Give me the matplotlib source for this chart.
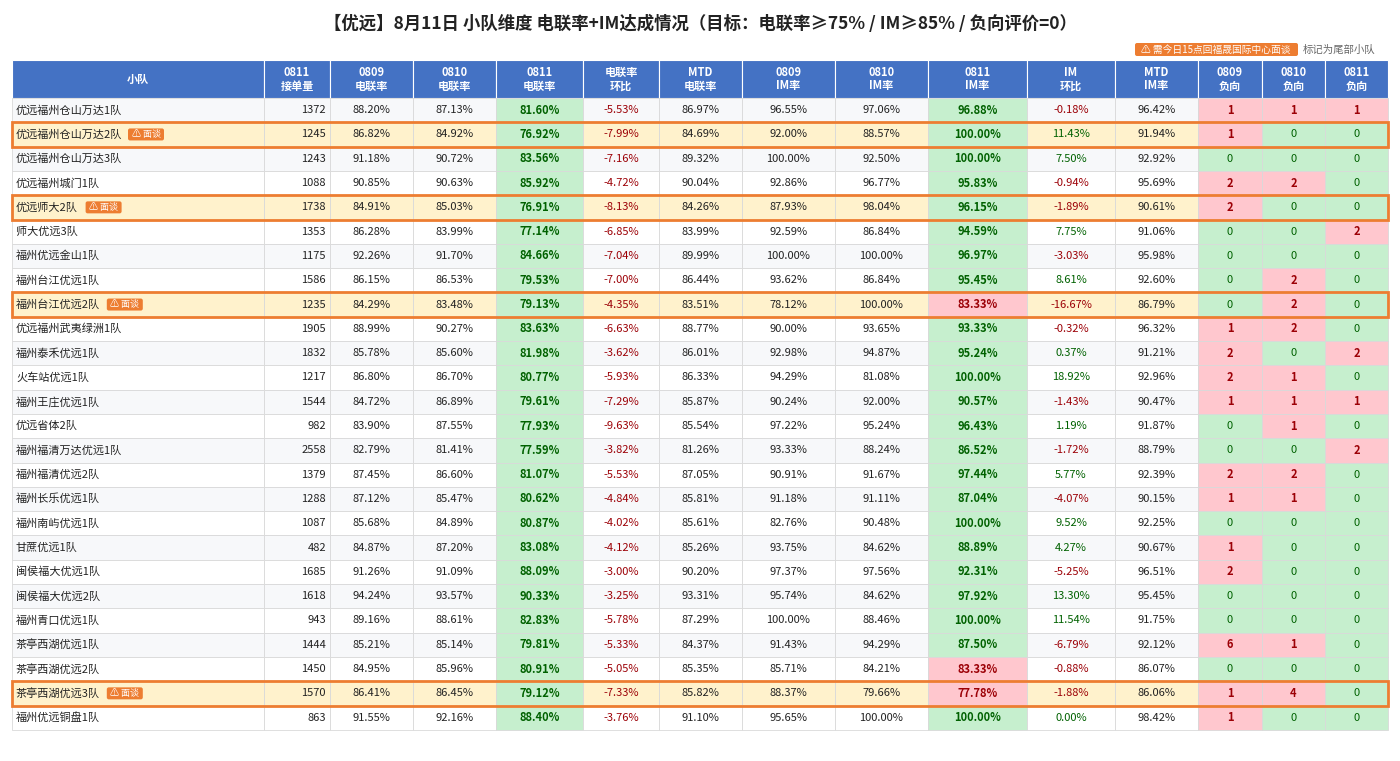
import matplotlib
matplotlib.use("Agg")
import matplotlib.pyplot as plt
from matplotlib.patches import Rectangle, FancyBboxPatch

plt.rcParams["font.family"] = ["Noto Sans CJK SC", "DejaVu Sans"]

TITLE = "【优远】8月11日 小队维度 电联率+IM达成情况（目标：电联率≥75% / IM≥85% / 负向评价=0）"
HEADERS = ["小队", "0811\n接单量", "0809\n电联率", "0810\n电联率", "0811\n电联率", "电联率\n环比",
           "MTD\n电联率", "0809\nIM率", "0810\nIM率", "0811\nIM率", "IM\n环比", "MTD\nIM率",
           "0809\n负向", "0810\n负向", "0811\n负向"]

teams = ["优远福州仓山万达1队", "优远福州仓山万达2队", "优远福州仓山万达3队", "优远福州城门1队",
         "优远师大2队", "师大优远3队", "福州优远金山1队", "福州台江优远1队", "福州台江优远2队",
         "优远福州武夷绿洲1队", "福州泰禾优远1队", "火车站优远1队", "福州王庄优远1队", "优远省体2队",
         "福州福清万达优远1队", "福州福清优远2队", "福州长乐优远1队", "福州南屿优远1队", "甘蔗优远1队",
         "闽侯福大优远1队", "闽侯福大优远2队", "福州青口优远1队", "茶亭西湖优远1队", "茶亭西湖优远2队",
         "茶亭西湖优远3队", "福州优远铜盘1队"]
flagged = [False, True, False, False, True, False, False, False, True, False, False, False, False,
           False, False, False, False, False, False, False, False, False, False, False, True, False]
orders = [1372, 1245, 1243, 1088, 1738, 1353, 1175, 1586, 1235, 1905, 1832, 1217, 1544, 982, 2558,
          1379, 1288, 1087, 482, 1685, 1618, 943, 1444, 1450, 1570, 863]
call_0809 = [88.20, 86.82, 91.18, 90.85, 84.91, 86.28, 92.26, 86.15, 84.29, 88.99, 85.78, 86.80, 84.72,
             83.90, 82.79, 87.45, 87.12, 85.68, 84.87, 91.26, 94.24, 89.16, 85.21, 84.95, 86.41, 91.55]
call_0810 = [87.13, 84.92, 90.72, 90.63, 85.03, 83.99, 91.70, 86.53, 83.48, 90.27, 85.60, 86.70, 86.89,
             87.55, 81.41, 86.60, 85.47, 84.89, 87.20, 91.09, 93.57, 88.61, 85.14, 85.96, 86.45, 92.16]
call_0811 = [81.60, 76.92, 83.56, 85.92, 76.91, 77.14, 84.66, 79.53, 79.13, 83.63, 81.98, 80.77, 79.61,
             77.93, 77.59, 81.07, 80.62, 80.87, 83.08, 88.09, 90.33, 82.83, 79.81, 80.91, 79.12, 88.40]
call_chg = [-5.53, -7.99, -7.16, -4.72, -8.13, -6.85, -7.04, -7.00, -4.35, -6.63, -3.62, -5.93, -7.29,
            -9.63, -3.82, -5.53, -4.84, -4.02, -4.12, -3.00, -3.25, -5.78, -5.33, -5.05, -7.33, -3.76]
call_mtd = [86.97, 84.69, 89.32, 90.04, 84.26, 83.99, 89.99, 86.44, 83.51, 88.77, 86.01, 86.33, 85.87,
            85.54, 81.26, 87.05, 85.81, 85.61, 85.26, 90.20, 93.31, 87.29, 84.37, 85.35, 85.82, 91.10]
im_0809 = [96.55, 92.00, 100.00, 92.86, 87.93, 92.59, 100.00, 93.62, 78.12, 90.00, 92.98, 94.29, 90.24,
           97.22, 93.33, 90.91, 91.18, 82.76, 93.75, 97.37, 95.74, 100.00, 91.43, 85.71, 88.37, 95.65]
im_0810 = [97.06, 88.57, 92.50, 96.77, 98.04, 86.84, 100.00, 86.84, 100.00, 93.65, 94.87, 81.08, 92.00,
           95.24, 88.24, 91.67, 91.11, 90.48, 84.62, 97.56, 84.62, 88.46, 94.29, 84.21, 79.66, 100.00]
im_0811 = [96.88, 100.00, 100.00, 95.83, 96.15, 94.59, 96.97, 95.45, 83.33, 93.33, 95.24, 100.00, 90.57,
           96.43, 86.52, 97.44, 87.04, 100.00, 88.89, 92.31, 97.92, 100.00, 87.50, 83.33, 77.78, 100.00]
im_chg = [-0.18, 11.43, 7.50, -0.94, -1.89, 7.75, -3.03, 8.61, -16.67, -0.32, 0.37, 18.92, -1.43, 1.19,
          -1.72, 5.77, -4.07, 9.52, 4.27, -5.25, 13.30, 11.54, -6.79, -0.88, -1.88, 0.00]
im_mtd = [96.42, 91.94, 92.92, 95.69, 90.61, 91.06, 95.98, 92.60, 86.79, 96.32, 91.21, 92.96, 90.47,
          91.87, 88.79, 92.39, 90.15, 92.25, 90.67, 96.51, 95.45, 91.75, 92.12, 86.07, 86.06, 98.42]
neg_0809 = [1, 1, 0, 2, 2, 0, 0, 0, 0, 1, 2, 2, 1, 0, 0, 2, 1, 0, 1, 2, 0, 0, 6, 0, 1, 1]
neg_0810 = [1, 0, 0, 2, 0, 0, 0, 2, 2, 2, 0, 1, 1, 1, 0, 2, 1, 0, 0, 0, 0, 0, 1, 0, 4, 0]
neg_0811 = [1, 0, 0, 0, 0, 2, 0, 0, 0, 0, 2, 0, 1, 0, 2, 0, 0, 0, 0, 0, 0, 0, 0, 0, 0, 0]

col_x = [12, 264, 330, 413, 496, 583, 659, 742, 835, 928, 1027, 1115, 1198, 1262, 1325, 1388]
HEAD_TOP, HEAD_BOT, ROW_H = 60, 98, 24.3

HEADER_BG = "#4472C4"
GREEN_BG, GREEN_FG = "#C6EFCE", "#006100"
RED_BG, RED_FG = "#FFC7CE", "#9C0006"
FLAG_BG, FLAG_EDGE = "#FFF2CC", "#ED7D31"
GRID = "#d9d9d9"

fig = plt.figure(figsize=(14, 7.61), dpi=100)
ax = fig.add_axes([0, 0, 1, 1])
ax.set_xlim(0, 1400)
ax.set_ylim(761, 0)
ax.axis("off")

ax.text(700, 24, TITLE, ha="center", va="center", fontsize=12.5, weight="bold", color="#222")

# legend chip
ax.add_patch(FancyBboxPatch((1135, 43), 163, 13, boxstyle="round,pad=0,rounding_size=2",
                            fc=FLAG_EDGE, ec="none"))
ax.text(1216, 49.5, "⚠ 需今日15点回福晟国际中心面谈", ha="center", va="center", fontsize=7, color="white")
ax.text(1303, 49.5, "标记为尾部小队", ha="left", va="center", fontsize=7.5, color="#666")

# header
for i, h in enumerate(HEADERS):
    x0, x1 = col_x[i], col_x[i + 1]
    ax.add_patch(Rectangle((x0, HEAD_TOP), x1 - x0, HEAD_BOT - HEAD_TOP, fc=HEADER_BG, ec="white", lw=0.8))
    ax.text((x0 + x1) / 2, (HEAD_TOP + HEAD_BOT) / 2, h, ha="center", va="center", fontsize=8,
            weight="bold", color="white", linespacing=1.1)


def pct(v, sign=False):
    return f"{v:.2f}%"


for r in range(len(teams)):
    y0 = HEAD_BOT + r * ROW_H
    yc = y0 + ROW_H / 2
    base = FLAG_BG if flagged[r] else ("#f7f8fa" if r % 2 == 0 else "white")
    cells = [
        (teams[r], base, "#222", False),
        (str(orders[r]), base, "#222", False),
        (pct(call_0809[r]), base, "#222", False),
        (pct(call_0810[r]), base, "#222", False),
        (pct(call_0811[r]), GREEN_BG if call_0811[r] >= 75 else RED_BG,
         GREEN_FG if call_0811[r] >= 75 else RED_FG, True),
        (pct(call_chg[r]), base, RED_FG if call_chg[r] < 0 else GREEN_FG, False),
        (pct(call_mtd[r]), base, "#222", False),
        (pct(im_0809[r]), base, "#222", False),
        (pct(im_0810[r]), base, "#222", False),
        (pct(im_0811[r]), GREEN_BG if im_0811[r] >= 85 else RED_BG,
         GREEN_FG if im_0811[r] >= 85 else RED_FG, True),
        (pct(im_chg[r]), base, RED_FG if im_chg[r] < 0 else GREEN_FG, False),
        (pct(im_mtd[r]), base, "#222", False),
    ]
    for n in (neg_0809[r], neg_0810[r], neg_0811[r]):
        cells.append((str(n), RED_BG if n > 0 else GREEN_BG, RED_FG if n > 0 else GREEN_FG, n > 0))
    for i, (txt, bg, fg, bold) in enumerate(cells):
        x0, x1 = col_x[i], col_x[i + 1]
        ax.add_patch(Rectangle((x0, y0), x1 - x0, ROW_H, fc=bg, ec=GRID, lw=0.6))
        if i == 0:
            t = ax.text(x0 + 4, yc, txt, ha="left", va="center", fontsize=8, color=fg)
            if flagged[r]:
                tw = len(txt) * 10.6 + 2
                ax.add_patch(FancyBboxPatch((x0 + 4 + tw + 4, yc - 6), 36, 12,
                                            boxstyle="round,pad=0,rounding_size=2", fc=FLAG_EDGE, ec="none"))
                ax.text(x0 + 4 + tw + 22, yc, "⚠ 面谈", ha="center", va="center", fontsize=6.5, color="white")
        elif i == 1:
            ax.text(x1 - 4, yc, txt, ha="right", va="center", fontsize=8, color=fg)
        else:
            ax.text((x0 + x1) / 2, yc, txt, ha="center", va="center", fontsize=8, color=fg,
                    weight="bold" if bold else "normal")
    if flagged[r]:
        ax.add_patch(Rectangle((col_x[0], y0), col_x[-1] - col_x[0], ROW_H, fc="none",
                               ec=FLAG_EDGE, lw=2, zorder=5))

fig.savefig("out.png", dpi=100)
